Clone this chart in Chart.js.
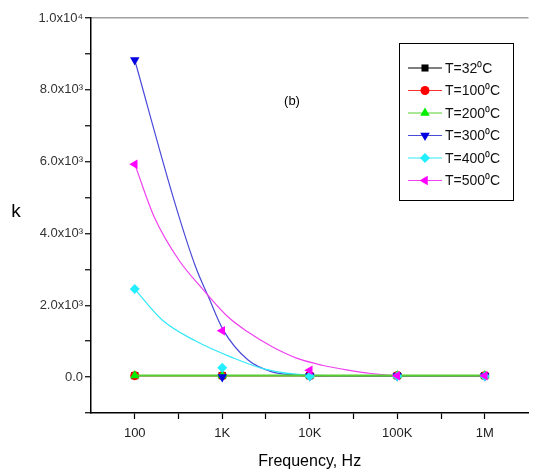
<!DOCTYPE html>
<html>
<head>
<meta charset="utf-8">
<script src="https://cdn.jsdelivr.net/npm/chart.js@4/dist/chart.umd.min.js"></script>
<style>
  html, body { margin: 0; padding: 0; background: #fff; }
  canvas { display: block; }
</style>
</head>
<body>
<canvas id="chart" width="534" height="470"></canvas>
<script>
// Measured frequencies (Hz) and dielectric constant k at each temperature
const freqs = [100, 1000, 10000, 100000, 1000000];
const k32  = [40, 40, 40, 40, 40];
const k100 = [40, 40, 40, 40, 40];
const k200 = [45, 45, 45, 45, 45];
const k300 = [8830, 0, 30, 30, 30];
const k400 = [2450, 260, 20, 20, 20];
const k500 = [5930, 1290, 190, 40, 40];

// Fitted decay curves for the three highest temperatures
const fitFreq300 = [100, 281, 497, 697, 1028, 1973, 3776, 7244, 10000, 100000, 1000000];
const fitK300    = [8830, 4930, 3064, 2228, 1309, 474, 139, 56, 30, 30, 30];
const fitFreq400 = [100, 206, 497, 1264, 3062, 10000, 100000, 1000000];
const fitK400    = [2450, 1588, 1003, 557, 223, 56, 30, 30];
const fitFreq500 = [100, 167, 319, 611, 1169, 1968, 3767, 7213, 13800, 26400, 50400, 100000, 1000000];
const fitK500    = [5930, 4458, 3260, 2424, 1672, 1254, 836, 520, 330, 200, 100, 45, 40];

const seriesLabels = ['T=32\u2070C', 'T=100\u2070C', 'T=200\u2070C', 'T=300\u2070C', 'T=400\u2070C', 'T=500\u2070C'];

// Axis ticks
const xTickValues = [100, 1000, 10000, 100000, 1000000];
const xTickLabels = ['100', '1K', '10K', '100K', '1M'];
const xMinorTicks = [316, 3162, 31623, 316228];
const yTickValues = [0, 2000, 4000, 6000, 8000, 10000];
const yTickLabels = ['0.0', '2.0x10\u00b3', '4.0x10\u00b3', '6.0x10\u00b3', '8.0x10\u00b3', '1.0x10\u2074'];
const yMinorTicks = [-1000, 1000, 3000, 5000, 7000, 9000];

const FONT = "'Liberation Sans', Arial, sans-serif";

// Visual style per series (line colour, marker colour, marker shape)
const styles = [
  { line: '#000000', fill: '#000000', shape: 'rect',     rot: 0,   r: 5,   w: 1.2 },
  { line: '#ff3030', fill: '#ff0000', shape: 'circle',   rot: 0,   r: 4.5, w: 1.2 },
  { line: '#55d030', fill: '#00ee00', shape: 'triangle', rot: 0,   r: 5.5, w: 2 },
  { line: '#4a4ad8', fill: '#0000e0', shape: 'triangle', rot: 180, r: 5.5, w: 1.2 },
  { line: '#33e8f8', fill: '#22eeff', shape: 'rectRot',  rot: 0,   r: 5,   w: 1.2 },
  { line: '#f040f0', fill: '#ff00ff', shape: 'triangle', rot: -90, r: 5.5, w: 1.2 }
];

const pts = (xs, ys) => xs.map((x, i) => ({ x: x, y: ys[i] }));

function markerSet(i, values, withLine, order) {
  const s = styles[i];
  return {
    label: seriesLabels[i],
    data: pts(freqs, values),
    showLine: withLine,
    borderColor: s.line,
    borderWidth: s.w,
    pointStyle: s.shape,
    pointRotation: s.rot,
    pointRadius: s.r,
    pointBackgroundColor: s.fill,
    pointBorderColor: s.fill,
    pointBorderWidth: 0,
    order: order
  };
}

function fitSet(i, xs, ys, order) {
  return {
    label: seriesLabels[i] + ' fit',
    data: pts(xs, ys),
    showLine: true,
    borderColor: styles[i].line,
    borderWidth: 1.2,
    pointRadius: 0,
    cubicInterpolationMode: 'monotone',
    order: order
  };
}

const datasets = [
  fitSet(3, fitFreq300, fitK300, 12),
  fitSet(4, fitFreq400, fitK400, 11),
  fitSet(5, fitFreq500, fitK500, 10),
  markerSet(0, k32, true, 6),
  markerSet(1, k100, true, 5),
  markerSet(2, k200, true, 4),
  markerSet(3, k300, false, 2),
  markerSet(4, k400, false, 1),
  markerSet(5, k500, false, 0)
];

// Inset legend, panel tag and the upright "k" axis title
const extras = {
  id: 'extras',
  afterDraw(chart) {
    const ctx = chart.ctx;
    ctx.save();

    // legend box
    const bx = 399.5, by = 43.5, bw = 114, bh = 157;
    ctx.fillStyle = '#fff';
    ctx.fillRect(bx, by, bw, bh);
    ctx.strokeStyle = '#000';
    ctx.lineWidth = 1;
    ctx.strokeRect(bx, by, bw, bh);

    ctx.font = '14px ' + FONT;
    ctx.textBaseline = 'middle';
    ctx.textAlign = 'left';
    for (let i = 0; i < seriesLabels.length; i++) {
      const s = styles[i];
      const y = 68 + i * 22.5;
      ctx.strokeStyle = s.line;
      ctx.lineWidth = 1;
      ctx.beginPath();
      ctx.moveTo(408, y);
      ctx.lineTo(442, y);
      ctx.stroke();
      ctx.fillStyle = s.fill;
      ctx.strokeStyle = s.fill;
      Chart.helpers.drawPoint(ctx, { pointStyle: s.shape, radius: s.r, rotation: s.rot, borderWidth: 0 }, 425, y);
      ctx.fillStyle = '#111';
      ctx.fillText(seriesLabels[i], 445, y + 1);
    }

    // panel tag
    ctx.fillStyle = '#000';
    ctx.font = '13px ' + FONT;
    ctx.textAlign = 'center';
    ctx.fillText('(b)', 292, 101);

    // y axis title
    ctx.font = '19px ' + FONT;
    ctx.fillText('k', 16, 212);
    ctx.restore();
  }
};

new Chart(document.getElementById('chart'), {
  type: 'line',
  data: { datasets: datasets },
  plugins: [extras],
  options: {
    responsive: false,
    animation: false,
    devicePixelRatio: 1,
    layout: { padding: { top: 18, right: 0, left: 0, bottom: 0 } },
    plugins: { legend: { display: false }, tooltip: { enabled: false } },
    scales: {
      x: {
        type: 'logarithmic',
        min: Math.pow(10, 1.5),
        max: Math.pow(10, 6.5),
        afterBuildTicks(scale) {
          scale.ticks = xTickValues.concat(xMinorTicks)
            .sort((a, b) => a - b)
            .map(v => ({ value: v }));
        },
        afterFit(scale) { scale.height = 57; },
        ticks: {
          autoSkip: false,
          maxRotation: 0,
          padding: 7,
          color: '#222',
          font: { family: FONT, size: 13 },
          callback(value) {
            const idx = xTickValues.indexOf(value);
            return idx >= 0 ? xTickLabels[idx] : '';
          }
        },
        grid: { drawOnChartArea: false, drawTicks: true, tickLength: 6, tickColor: '#000', tickWidth: 1.2 },
        border: { display: true, color: '#000', width: 1.5 },
        title: {
          display: true,
          text: 'Frequency, Hz',
          color: '#000',
          font: { family: FONT, size: 16 },
          padding: { top: 0, bottom: -1 }
        }
      },
      y: {
        type: 'linear',
        min: -1000,
        max: 10000,
        afterBuildTicks(scale) {
          scale.ticks = yTickValues.concat(yMinorTicks)
            .sort((a, b) => a - b)
            .map(v => ({ value: v }));
        },
        afterFit(scale) { scale.width = 91; },
        ticks: {
          autoSkip: false,
          padding: 2,
          color: '#333',
          font: { family: FONT, size: 13 },
          callback(value) {
            const idx = yTickValues.indexOf(value);
            return idx >= 0 ? yTickLabels[idx] : '';
          }
        },
        grid: {
          drawOnChartArea: true,
          drawTicks: true,
          tickLength: 6,
          tickColor: '#000',
          tickWidth: 1.2,
          lineWidth: 1.5,
          color: (c) => (c.tick && c.tick.value === 10000) ? '#a0a0a0' : 'rgba(0,0,0,0)'
        },
        border: { display: true, color: '#000', width: 1.5 },
        title: { display: false }
      }
    }
  }
});
</script>
</body>
</html>
